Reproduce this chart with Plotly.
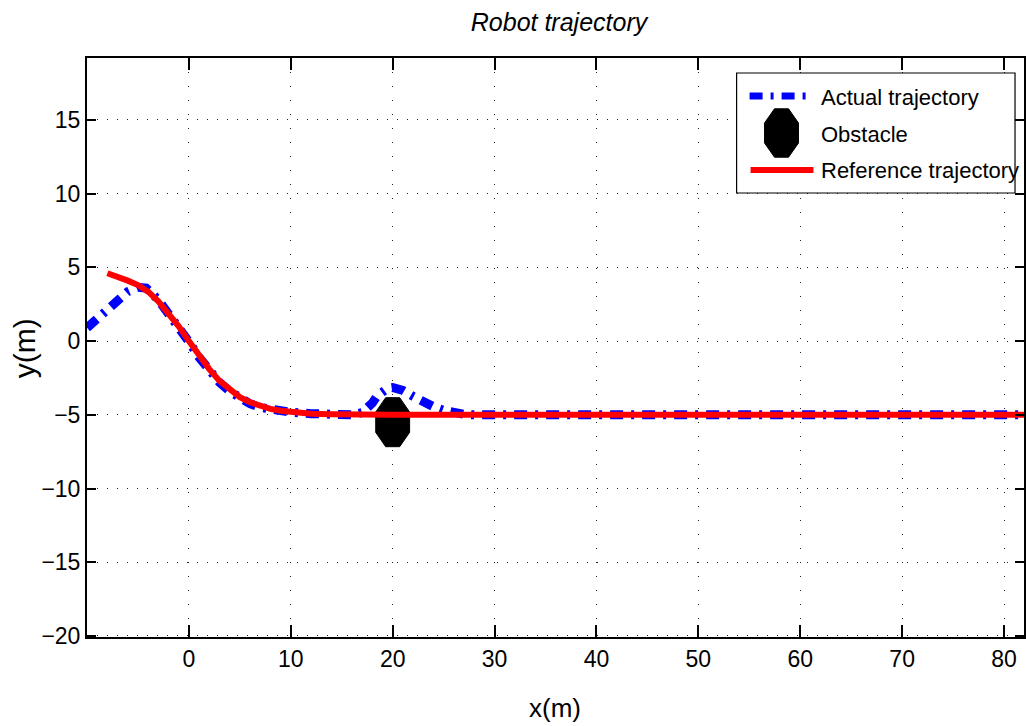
import numpy as np
import plotly.graph_objects as go

# Reference path (red) read in metres
ref_x = [-8, -7, -6, -5, -4, -3, -2, -1, 0, 1, 2, 3, 4, 5, 6, 7, 8, 9, 10,
         11, 12, 14, 16, 18, 20, 30, 40, 50, 60, 70, 80, 82]
ref_y = [4.6, 4.4, 4.1, 3.8, 3.35, 2.7, 1.9, 1.0, 0.0, -1.0, -1.9, -2.7, -3.3,
         -3.8, -4.15, -4.4, -4.6, -4.72, -4.8, -4.87, -4.92, -4.96, -4.98,
         -5.0, -5.0, -5.0, -5.0, -5.0, -5.0, -5.0, -5.0, -5.0]

# Actual robot path (blue), including the avoidance bump near the obstacle
act_x = [-10, -9, -8, -7, -6, -5, -4.2, -3, -2, -1, 0, 1, 2, 3, 4, 5, 6, 7, 8,
         9, 10, 12, 14, 16, 17, 17.5, 18, 18.5, 19, 19.5, 20, 20.5, 21, 22,
         23, 24, 25, 26, 27, 28, 40, 50, 60, 70, 80, 82]
act_y = [0.9, 1.55, 2.15, 2.8, 3.35, 3.65, 3.6, 2.8, 1.9, 0.95, -0.05, -1.1,
         -2.0, -2.8, -3.4, -3.9, -4.25, -4.5, -4.65, -4.75, -4.82, -4.92,
         -4.97, -5.0, -4.85, -4.6, -4.2, -3.7, -3.4, -3.2, -3.15, -3.2, -3.35,
         -3.75, -4.15, -4.45, -4.7, -4.88, -4.97, -5.0, -5.0, -5.0, -5.0,
         -5.0, -5.0, -5.0]

# Obstacle: centre and radius (m)
obs_center = (20.0, -5.5)
obs_radius = 1.8

x_ticks = [0, 10, 20, 30, 40, 50, 60, 70, 80]
y_ticks = [-20, -15, -10, -5, 0, 5, 10, 15]
x_range = [-10.0, 81.96]
y_range = [-20.07, 19.2]

FONT = "Liberation Sans Narrow, Arial Narrow, Liberation Sans, Arial, sans-serif"
BLUE_DASH = "13px,8px,3px,8px"

W, H = 1026, 726
ML, MR, MT, MB = 87, 0, 58, 89
PW, PH = W - ML - MR, H - MT - MB

ang = np.deg2rad(22.5 + 45 * np.arange(9))
obs_x = obs_center[0] + obs_radius * np.cos(ang)
obs_y = obs_center[1] + obs_radius * np.sin(ang)

fig = go.Figure()
fig.add_trace(go.Scatter(x=act_x, y=act_y, mode="lines", name="Actual trajectory",
                         line=dict(color="#0000ff", width=9, dash=BLUE_DASH),
                         showlegend=False))
fig.add_trace(go.Scatter(x=obs_x, y=obs_y, mode="lines", fill="toself",
                         fillcolor="black", line=dict(color="black", width=1),
                         name="Obstacle", showlegend=False))
fig.add_trace(go.Scatter(x=ref_x, y=ref_y, mode="lines", name="Reference trajectory",
                         line=dict(color="#ff0000", width=6), showlegend=False))


def px(xp):
    return (xp - ML) / PW


def py(yp):
    return (H - MB - yp) / PH


shapes = []
annotations = []
# legend box
shapes.append(dict(type="rect", xref="paper", yref="paper",
                   x0=px(738), x1=px(1017), y0=py(193), y1=py(73),
                   line=dict(color="black", width=1.2), fillcolor="white",
                   layer="above"))
shapes.append(dict(type="line", xref="paper", yref="paper",
                   x0=px(751), x1=px(814), y0=py(96), y1=py(96),
                   line=dict(color="#0000ff", width=7, dash=BLUE_DASH),
                   layer="above"))
oct_cx, oct_cy, oct_rx, oct_ry = 783, 133, 18.4, 26.2
pts = [(px(oct_cx + oct_rx * np.cos(a)), py(oct_cy - oct_ry * np.sin(a)))
       for a in ang[:8]]
path = "M " + " L ".join(f"{a:.5f},{b:.5f}" for a, b in pts) + " Z"
shapes.append(dict(type="path", xref="paper", yref="paper", path=path,
                   fillcolor="black", line=dict(color="black", width=1),
                   layer="above"))
shapes.append(dict(type="line", xref="paper", yref="paper",
                   x0=px(752), x1=px(815), y0=py(170), y1=py(170),
                   line=dict(color="#ff0000", width=6), layer="above"))
for label, yy in [("Actual trajectory", 97), ("Obstacle", 134),
                  ("Reference trajectory", 171)]:
    annotations.append(dict(text=label, xref="paper", yref="paper",
                            x=px(821), y=py(yy), xanchor="left", yanchor="middle",
                            showarrow=False, font=dict(family=FONT, size=22,
                                                       color="black")))

# axis titles
annotations.append(dict(text="x(m)", xref="paper", yref="paper",
                        x=px(556), y=py(708), xanchor="center", yanchor="middle",
                        showarrow=False,
                        font=dict(family=FONT, size=26, color="black")))
annotations.append(dict(text="y(m)", xref="paper", yref="paper", textangle=-90,
                        x=px(25), y=py(348), xanchor="center", yanchor="middle",
                        showarrow=False,
                        font=dict(family=FONT, size=30, color="black")))

axis_common = dict(showline=True, linecolor="black", linewidth=2, mirror="ticks",
                   ticks="inside", tickcolor="black", tickwidth=1.5,
                   showgrid=True, gridcolor="#222222", gridwidth=1,
                   zeroline=False, tickfont=dict(family=FONT, size=23, color="black"))

fig.update_layout(
    width=W, height=H,
    margin=dict(l=ML, r=MR, t=MT, b=MB, pad=0),
    paper_bgcolor="white", plot_bgcolor="white",
    title=dict(text="<i>Robot trajectory</i>", x=559 / W, xanchor="center",
               y=1 - 22 / H, yanchor="middle", yref="container",
               font=dict(family=FONT, size=25, color="black")),
    xaxis=dict(range=x_range, tickvals=x_ticks, ticklen=12, griddash="1px,13px",
               **axis_common),
    yaxis=dict(range=y_range, tickvals=y_ticks, ticklen=9, griddash="1px,9px",
               **axis_common),
    shapes=shapes,
    annotations=annotations,
    showlegend=False,
)

fig.write_html("out.html")
